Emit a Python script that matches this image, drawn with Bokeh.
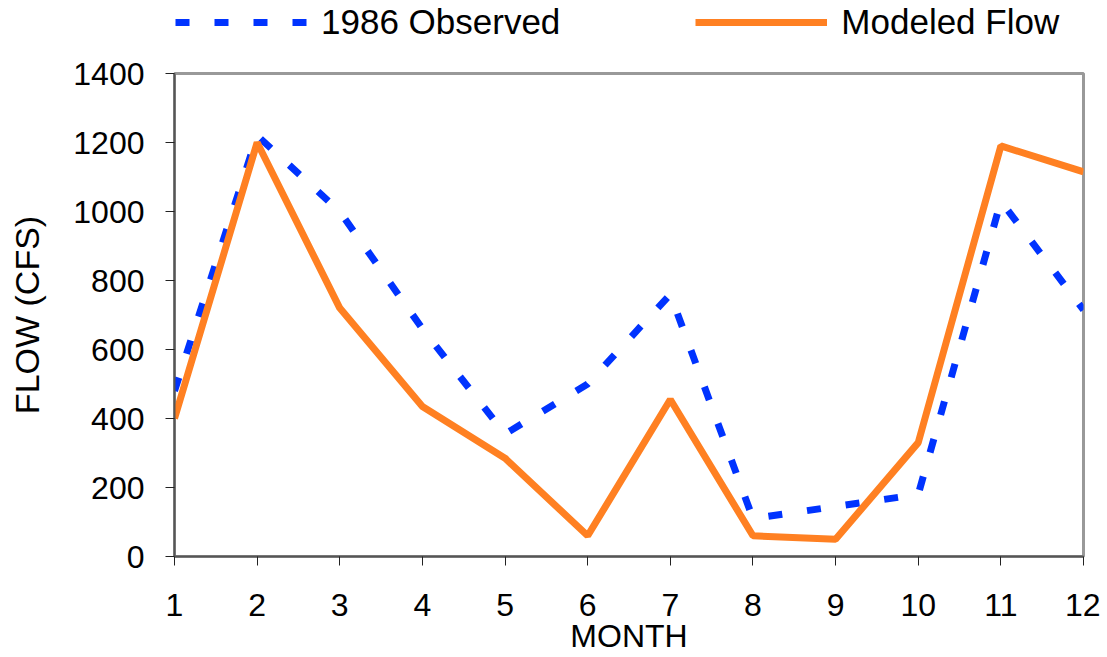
from bokeh.plotting import figure
from bokeh.models import Legend, LegendItem, Range1d, FixedTicker
from bokeh.layouts import column
from bokeh.embed import file_html
from bokeh.resources import INLINE

months = [1, 2, 3, 4, 5, 6, 7, 8, 9, 10, 11, 12]
observed_1986 = [480, 1220, 1000, 660, 355, 500, 760, 110, 145, 180, 1030, 715]
modeled_flow = [400, 1200, 720, 435, 285, 60, 455, 60, 50, 330, 1190, 1115]
y_ticks = [0, 200, 400, 600, 800, 1000, 1200, 1400]

FONT = "Liberation Sans"
BLUE = "#0033FF"
ORANGE = "#FF8022"
OBS_STYLE = dict(line_color=BLUE, line_width=7, line_dash="14 25")
MOD_STYLE = dict(line_color=ORANGE, line_width=7)

# ---- main chart ----
p = figure(width=1100, height=611, output_backend="svg", toolbar_location=None,
           x_range=Range1d(1, 12), y_range=Range1d(0, 1400),
           min_border_left=174, min_border_right=17, min_border_top=28, min_border_bottom=100)
p.xgrid.visible = False
p.ygrid.visible = False
p.outline_line_color = "#999999"
p.outline_line_width = 3
p.background_fill_color = "white"
p.border_fill_color = "white"

p.line(months, observed_1986, **OBS_STYLE)
p.line(months, modeled_flow, **MOD_STYLE)

for ax in (p.xaxis[0], p.yaxis[0]):
    ax.axis_line_color = "#555555"
    ax.axis_line_width = 2
    ax.major_tick_in = 0
    ax.major_tick_out = 9
    ax.major_tick_line_color = "#222222"
    ax.minor_tick_line_color = None
    ax.major_label_text_font = FONT
    ax.major_label_text_font_size = "32px"
    ax.major_label_text_color = "black"
    ax.axis_label_text_font = FONT
    ax.axis_label_text_font_style = "normal"
    ax.axis_label_text_color = "black"

p.xaxis.ticker = FixedTicker(ticks=months)
p.yaxis.ticker = FixedTicker(ticks=y_ticks)
p.xaxis.major_label_standoff = 28
p.yaxis.major_label_standoff = 21
p.xaxis.axis_label = "MONTH"
p.xaxis.axis_label_text_font_size = "32px"
p.xaxis.axis_label_standoff = -1
p.yaxis.axis_label = "FLOW (CFS)"
p.yaxis.axis_label_text_font_size = "34px"
p.yaxis.axis_label_standoff = 24

# ---- legend strip above the chart ----
lf = figure(width=1100, height=45, output_backend="svg", toolbar_location=None,
            x_range=Range1d(100, 101), y_range=Range1d(-2, -1),
            x_axis_location=None, y_axis_location=None,
            min_border_left=0, min_border_right=0, min_border_top=0, min_border_bottom=0,
            outline_line_color=None)
lf.grid.visible = False
lf.border_fill_color = "white"
lf.background_fill_color = "white"
l_obs = lf.line(months, observed_1986, **OBS_STYLE)
l_mod = lf.line(months, modeled_flow, **MOD_STYLE)

legend = Legend(items=[LegendItem(label="1986 Observed", renderers=[l_obs]),
                       LegendItem(label="Modeled Flow", renderers=[l_mod])],
                orientation="horizontal", location=(1, 1),
                glyph_width=132, glyph_height=44, label_height=44,
                label_standoff=14, spacing=135,
                label_text_font=FONT, label_text_font_size="35px", label_text_color="black",
                padding=0, margin=0, border_line_color=None, background_fill_alpha=0)
lf.add_layout(legend, "center")

layout = column(lf, p, spacing=0)
open("out.html", "w").write(file_html(layout, INLINE))
